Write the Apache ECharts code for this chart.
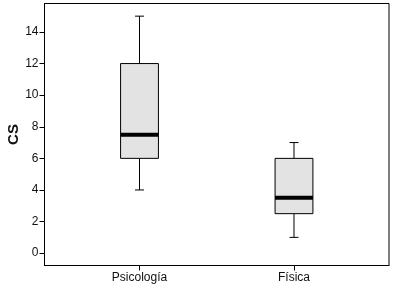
<!DOCTYPE html>
<html>
<head>
<meta charset="utf-8">
<script src="https://cdn.jsdelivr.net/npm/echarts@6/dist/echarts.min.js"></script>
<style>
  html, body { margin: 0; padding: 0; background: #fff; }
  #chart { width: 393px; height: 290px; }
</style>
</head>
<body>
<div id="chart"></div>
<script>
// grupos
const categories = ["Psicología", "Física"];
// [min, Q1, mediana, Q3, max]
const boxValues = [
  [4, 6, 7.5, 12, 15],
  [1, 2.5, 3.5, 6, 7]
];
const yTicks = [0, 2, 4, 6, 8, 10, 12, 14];

const chart = echarts.init(document.getElementById("chart"));

// posicion x = indice + 1
const seriesData = boxValues.map((v, i) => [i + 1].concat(v));

function renderBox(params, api) {
  const x = api.value(0);
  const pMin = api.coord([x, api.value(1)]);
  const pQ1 = api.coord([x, api.value(2)]);
  const pMed = api.coord([x, api.value(3)]);
  const pQ3 = api.coord([x, api.value(4)]);
  const pMax = api.coord([x, api.value(5)]);
  const bw = api.size([1, 0])[0] * 0.245;
  const cw = 9;
  const cx = pMed[0];
  const line = { stroke: "#000", lineWidth: 1 };
  return {
    type: "group",
    children: [
      { type: "line", shape: { x1: cx, y1: pMax[1], x2: cx, y2: pQ3[1] }, style: line },
      { type: "line", shape: { x1: cx, y1: pQ1[1], x2: cx, y2: pMin[1] }, style: line },
      { type: "line", shape: { x1: cx - cw / 2, y1: pMax[1], x2: cx + cw / 2, y2: pMax[1] }, style: line },
      { type: "line", shape: { x1: cx - cw / 2, y1: pMin[1], x2: cx + cw / 2, y2: pMin[1] }, style: line },
      {
        type: "rect",
        shape: { x: cx - bw / 2, y: pQ3[1], width: bw, height: pQ1[1] - pQ3[1] },
        style: { fill: "#e3e3e3", stroke: "#000", lineWidth: 1 }
      },
      {
        type: "line",
        shape: { x1: cx - bw / 2, y1: pMed[1], x2: cx + bw / 2, y2: pMed[1] },
        style: { stroke: "#000", lineWidth: 4 }
      }
    ]
  };
}

const font = "Liberation Sans, Arial, sans-serif";

const option = {
  animation: false,
  grid: {
    left: 44.5, right: 4, top: 3.5, bottom: 24.5,
    outerBoundsMode: "none",
    containLabel: false,
    show: true, borderColor: "#000", borderWidth: 1, backgroundColor: "#fff"
  },
  xAxis: {
    type: "value",
    min: 0.385,
    max: 2.615,
    splitLine: { show: false },
    axisLine: { show: true, onZero: false, lineStyle: { color: "#000" } },
    axisTick: { show: true, length: 5, lineStyle: { color: "#000" }, customValues: categories.map((c, i) => i + 1) },
    axisLabel: {
      customValues: categories.map((c, i) => i + 1),
      formatter: v => categories[Math.round(v) - 1] || "",
      color: "#111", fontFamily: font, fontSize: 12, margin: 6
    }
  },
  yAxis: {
    type: "value",
    min: -0.78,
    max: 15.8,
    name: "CS",
    nameLocation: "middle",
    nameGap: 23,
    nameMoveOverlap: false,
    nameTextStyle: { fontFamily: font, fontSize: 15, fontWeight: "bold", color: "#111" },
    splitLine: { show: false },
    axisLine: { show: true, onZero: false, lineStyle: { color: "#000" } },
    axisTick: { show: true, length: 5, lineStyle: { color: "#000" }, customValues: yTicks },
    axisLabel: {
      customValues: yTicks,
      color: "#111", fontFamily: font, fontSize: 12, margin: 6
    }
  },
  series: [{
    type: "custom",
    renderItem: renderBox,
    encode: { x: 0, y: [1, 2, 3, 4, 5] },
    data: seriesData
  }]
};

chart.setOption(option);
</script>
</body>
</html>
